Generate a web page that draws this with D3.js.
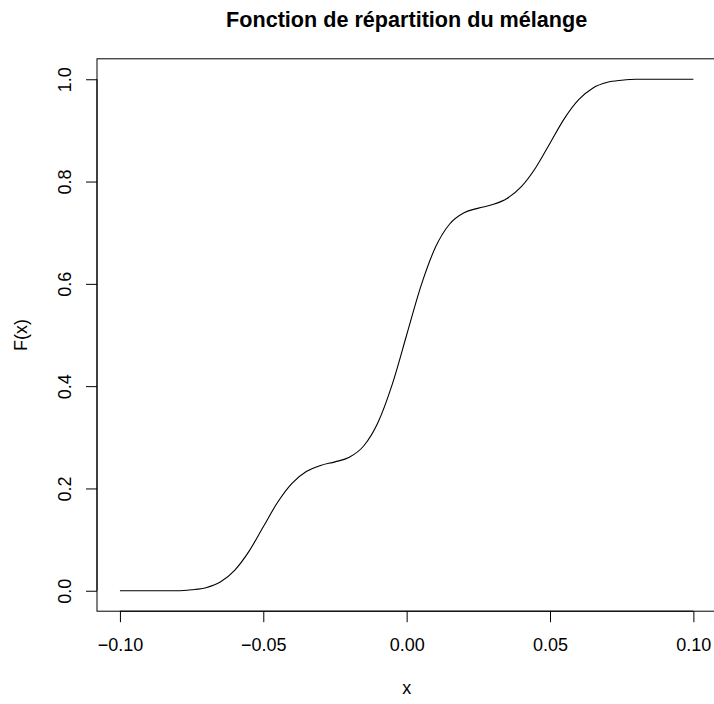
<!DOCTYPE html>
<html>
<head>
<meta charset="utf-8">
<script src="https://cdn.jsdelivr.net/npm/d3@7"></script>
<style>
  body { margin: 0; background: #ffffff; }
  svg { display: block; font-family: "Liberation Sans", Arial, Helvetica, sans-serif; }
</style>
</head>
<body>
<svg id="chart" width="714" height="704"></svg>
<script>
// x positions of the sampled curve
const xValues = [
  -0.100, -0.095, -0.090, -0.085, -0.080, -0.075, -0.070, -0.065, -0.060, -0.055,
  -0.050, -0.045, -0.040, -0.035, -0.030, -0.025, -0.020, -0.015, -0.010, -0.005,
   0.000,  0.005,  0.010,  0.015,  0.020,  0.025,  0.030,  0.035,  0.040,  0.045,
   0.050,  0.055,  0.060,  0.065,  0.070,  0.075,  0.080,  0.085,  0.090,  0.095,
   0.100
];

// F(x)
const fValues = [
  0.000, 0.000, 0.000, 0.000, 0.000, 0.002, 0.006, 0.017, 0.040, 0.077,
  0.125, 0.173, 0.210, 0.233, 0.245, 0.252, 0.261, 0.283, 0.329, 0.404,
  0.500, 0.596, 0.671, 0.717, 0.739, 0.748, 0.755, 0.767, 0.790, 0.827,
  0.875, 0.923, 0.960, 0.983, 0.994, 0.998, 1.000, 1.000, 1.000, 1.000,
  1.000
];

// tick values
const xTicks = [-0.10, -0.05, 0.00, 0.05, 0.10];
const yTicks = [0.0, 0.2, 0.4, 0.6, 0.8, 1.0];

const title = 'Fonction de répartition du mélange';
const xLabel = 'x';
const yLabel = 'F(x)';

// plot region (R style, 4% padding on each side)
const plot = { left: 97, right: 716.3, top: 58.8, bottom: 611.2 };
const fontSize = 18;
const lineH = fontSize * 1.2;

const xScale = d3.scaleLinear()
  .domain([-0.1 - 0.2 * 0.04, 0.1 + 0.2 * 0.04])
  .range([plot.left, plot.right]);

const yScale = d3.scaleLinear()
  .domain([0 - 0.04, 1 + 0.04])
  .range([plot.bottom, plot.top]);

const svg = d3.select('#chart');

// the curve
const data = xValues.map((x, i) => ({ x, y: fValues[i] }));
const line = d3.line()
  .x((d) => xScale(d.x))
  .y((d) => yScale(d.y))
  .curve(d3.curveMonotoneX);

svg.append('path')
  .datum(data)
  .attr('d', line)
  .attr('fill', 'none')
  .attr('stroke', '#000000')
  .attr('stroke-width', 1.1);

// box around plot
svg.append('rect')
  .attr('x', plot.left)
  .attr('y', plot.top)
  .attr('width', plot.right - plot.left)
  .attr('height', plot.bottom - plot.top)
  .attr('fill', 'none')
  .attr('stroke', '#000000')
  .attr('stroke-width', 1);

// x axis
const xAxisGroup = svg.append('g')
  .attr('transform', `translate(0,${plot.bottom})`)
  .call(d3.axisBottom(xScale)
    .tickValues(xTicks)
    .tickSizeInner(11)
    .tickSizeOuter(0)
    .tickPadding(0)
    .tickFormat((d) => d3.format('.2f')(d).replace('-', '\u2212')));

xAxisGroup.select('.domain')
  .attr('d', `M${xScale(xTicks[0])},0H${xScale(xTicks[xTicks.length - 1])}`)
  .attr('stroke', '#000000');
xAxisGroup.selectAll('.tick line').attr('stroke', '#000000');
xAxisGroup.selectAll('.tick text')
  .attr('font-size', fontSize)
  .attr('font-family', null)
  .attr('fill', '#000000')
  .attr('dy', null)
  .attr('y', 651 - plot.bottom);

// y axis
const yAxisGroup = svg.append('g')
  .attr('transform', `translate(${plot.left},0)`)
  .call(d3.axisLeft(yScale)
    .tickValues(yTicks)
    .tickSizeInner(11)
    .tickSizeOuter(0)
    .tickFormat(d3.format('.1f')));

yAxisGroup.select('.domain')
  .attr('d', `M0,${yScale(yTicks[0])}V${yScale(yTicks[yTicks.length - 1])}`)
  .attr('stroke', '#000000');
yAxisGroup.selectAll('.tick line').attr('stroke', '#000000');
yAxisGroup.selectAll('.tick text')
  .attr('font-size', fontSize)
  .attr('font-family', null)
  .attr('fill', '#000000')
  .attr('x', null)
  .attr('dy', null)
  .attr('text-anchor', 'middle')
  .attr('transform', `translate(${70.5 - plot.left},0) rotate(-90)`);

// title
svg.append('text')
  .attr('x', (plot.left + plot.right) / 2)
  .attr('y', 27)
  .attr('text-anchor', 'middle')
  .attr('font-size', fontSize * 1.2)
  .attr('font-weight', 'bold')
  .text(title);

// axis labels
svg.append('text')
  .attr('x', (plot.left + plot.right) / 2)
  .attr('y', 651 + 2 * lineH)
  .attr('text-anchor', 'middle')
  .attr('font-size', fontSize)
  .text(xLabel);

svg.append('text')
  .attr('transform', `translate(${70.5 - 2 * lineH},${(plot.top + plot.bottom) / 2}) rotate(-90)`)
  .attr('text-anchor', 'middle')
  .attr('font-size', fontSize)
  .text(yLabel);
</script>
</body>
</html>
